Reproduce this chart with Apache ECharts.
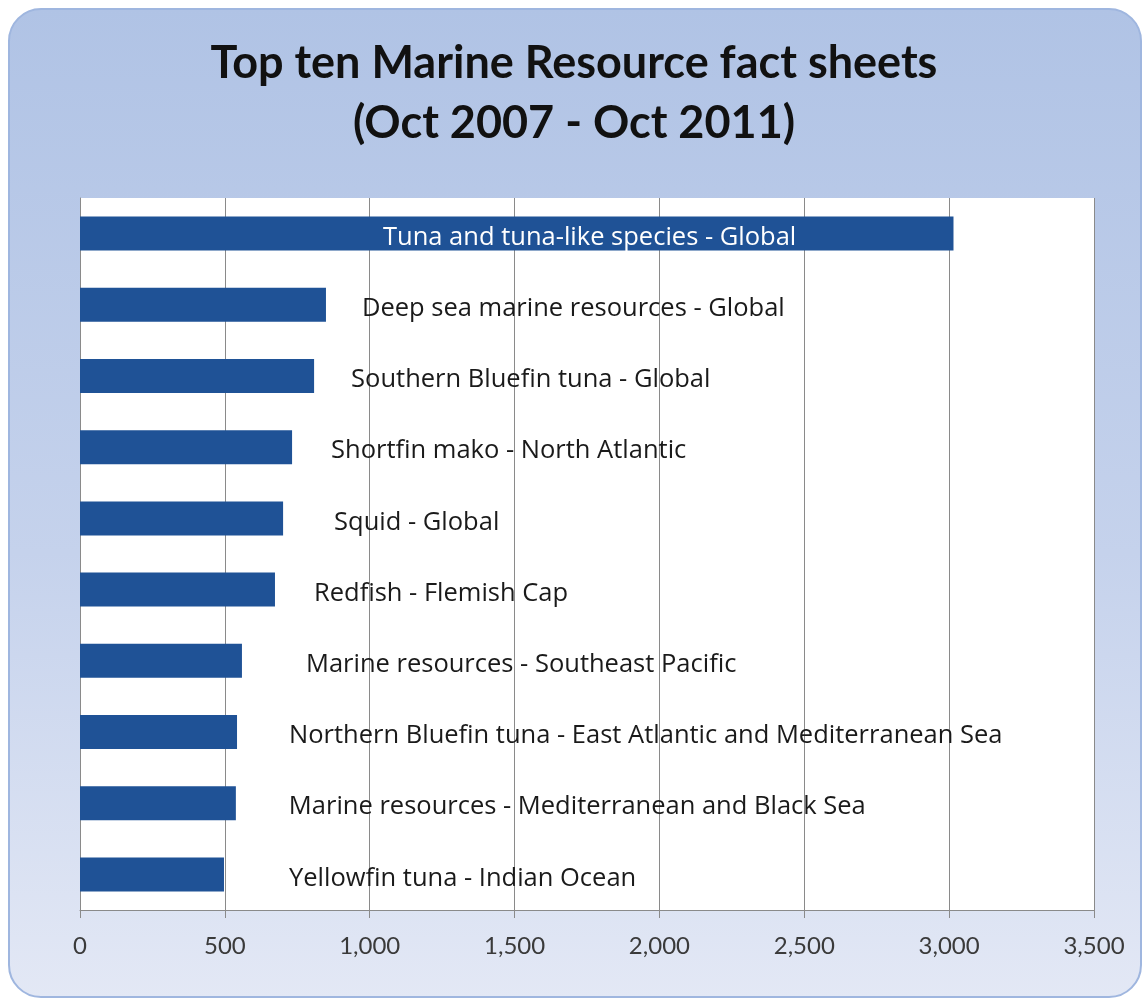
<!DOCTYPE html>
<html>
<head>
<meta charset="utf-8">
<script src="https://cdn.jsdelivr.net/npm/echarts@6/dist/echarts.min.js"></script>
<style>
  html, body { margin: 0; padding: 0; background: #fff; }
  #chart { width: 1148px; height: 1004px; }
</style>
</head>
<body>
<div id="chart"></div>
<script>
// fact sheet names, top to bottom
const sheets = [
  "Tuna and tuna-like species - Global",
  "Deep sea marine resources - Global",
  "Southern Bluefin tuna - Global",
  "Shortfin mako - North Atlantic",
  "Squid - Global",
  "Redfish - Flemish Cap",
  "Marine resources - Southeast Pacific",
  "Northern Bluefin tuna - East Atlantic and Mediterranean Sea",
  "Marine resources - Mediterranean and Black Sea",
  "Yellowfin tuna - Indian Ocean"
];
// page views
const views = [3015, 849, 808, 732, 701, 673, 559, 542, 538, 497];
const xTicks = [0, 500, 1000, 1500, 2000, 2500, 3000, 3500];

// label gap after each bar end (first one sits inside the bar)
const labelGaps = [303, 36, 37, 39, 51, 39, 64, 52, 53, 65];

const font = "'Open Sans', Lato, sans-serif";
const titleFont = "Lato, 'Open Sans', sans-serif";
const gridColor = "#8a8a8a";

const chart = echarts.init(document.getElementById("chart"));

const barData = views.map((v, i) => {
  if (i === 0) {
    return {
      value: v,
      label: { position: "insideLeft", distance: labelGaps[i], color: "#ffffff" }
    };
  }
  return { value: v, label: { position: "right", distance: labelGaps[i] } };
});

chart.setOption({
  backgroundColor: "#ffffff",
  animation: false,
  graphic: [{
    type: "rect",
    z: -10,
    silent: true,
    shape: { x: 9, y: 9, width: 1132, height: 988, r: 32 },
    style: {
      fill: new echarts.graphic.LinearGradient(0, 0, 0, 1, [
        { offset: 0, color: "#b0c3e5" },
        { offset: 0.55, color: "#c5d2ec" },
        { offset: 1, color: "#e3e8f5" }
      ]),
      stroke: "#9fb6df",
      lineWidth: 2
    }
  }],
  title: {
    text: "Top ten Marine Resource fact sheets\n(Oct 2007 - Oct 2011)",
    left: "center",
    top: 28,
    textStyle: {
      fontFamily: titleFont,
      fontWeight: "bold",
      fontSize: 45,
      lineHeight: 60,
      color: "#111111"
    }
  },
  grid: {
    left: 80,
    right: 54,
    top: 198,
    bottom: 94,
    show: true,
    backgroundColor: "#ffffff",
    borderWidth: 0
  },
  xAxis: {
    type: "value",
    min: xTicks[0],
    max: xTicks[xTicks.length - 1],
    interval: xTicks[1] - xTicks[0],
    axisLine: { show: true, lineStyle: { color: gridColor, width: 1 } },
    axisTick: { show: true, length: 8, lineStyle: { color: gridColor } },
    splitLine: { show: true, lineStyle: { color: gridColor, width: 1 } },
    axisLabel: {
      margin: 24,
      fontFamily: titleFont,
      fontSize: 24,
      color: "#3a3a3a",
      formatter: (v) => v.toLocaleString("en-US")
    }
  },
  yAxis: {
    type: "category",
    inverse: true,
    data: sheets,
    axisLine: { show: true, lineStyle: { color: gridColor, width: 1 } },
    axisTick: { show: false },
    axisLabel: { show: false },
    splitLine: { show: false }
  },
  series: [{
    type: "bar",
    data: barData,
    barWidth: 34,
    itemStyle: { color: "#1f5296" },
    label: {
      show: true,
      formatter: "{b}",
      offset: [0, 4],
      fontFamily: font,
      fontSize: 25.5,
      color: "#1a1a1a"
    }
  }]
});
</script>
</body>
</html>
